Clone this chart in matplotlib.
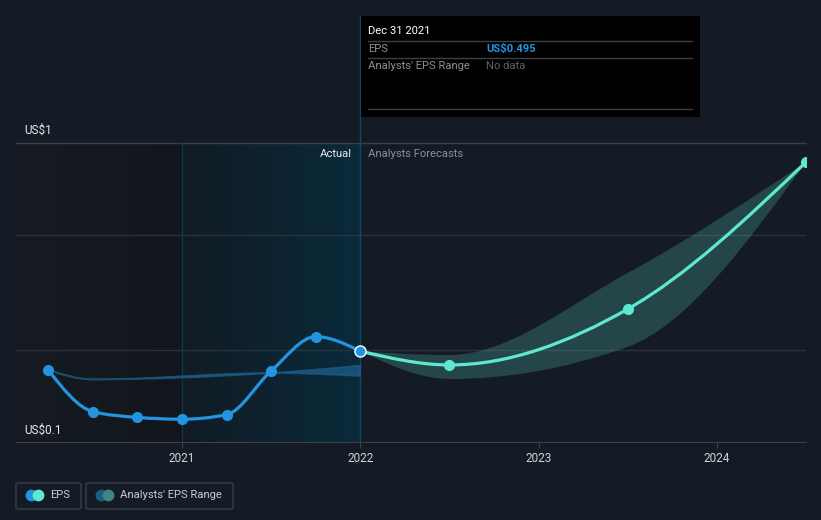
import numpy as np
import matplotlib.pyplot as plt
from matplotlib.path import Path
from matplotlib.patches import PathPatch, Rectangle, FancyBboxPatch
from matplotlib.lines import Line2D
from matplotlib.colors import LinearSegmentedColormap

plt.rcParams['font.family'] = ['Roboto', 'DejaVu Sans']

# EPS history (quarterly, fractional years) and analyst forecasts
eps_years = [2020.25, 2020.5, 2020.75, 2021.0, 2021.25, 2021.5, 2021.75, 2022.0]
eps_values = [0.413, 0.232, 0.207, 0.199, 0.219, 0.409, 0.558, 0.495]

fc_years = [2022.0, 2022.5, 2023.5, 2024.5]
fc_values = [0.495, 0.435, 0.678, 1.317]
fc_low = [0.495, 0.374, 0.514, 1.317]
fc_high = [0.495, 0.478, 0.835, 1.317]

# past analyst range
past_years = [2020.25, 2020.5, 2021.5, 2022.0]
past_low = [0.413, 0.372, 0.400, 0.387]
past_high = [0.413, 0.372, 0.400, 0.432]

year_ticks = [2021, 2022, 2023, 2024]

BG = '#151b24'
BLUE = '#2394df'
TEAL = '#5ee8d1'
GRID = '#2b313a'
FS = 8.1


def monotone_path(xs, ys):
    # cubic bezier segments with monotone-x tangents
    x = np.asarray(xs, float)
    y = np.asarray(ys, float)
    n = len(x)
    h = np.diff(x)
    s = np.diff(y) / h
    m = np.zeros(n)
    for i in range(1, n - 1):
        p = (s[i - 1] * h[i] + s[i] * h[i - 1]) / (h[i - 1] + h[i])
        m[i] = (np.sign(s[i - 1]) + np.sign(s[i])) * min(abs(s[i - 1]), abs(s[i]), 0.5 * abs(p))
    m[0] = (3 * s[0] - m[1]) / 2 if n > 2 else s[0]
    m[-1] = (3 * s[-1] - m[-2]) / 2 if n > 2 else s[-1]
    verts = [(x[0], y[0])]
    codes = [Path.MOVETO]
    for i in range(n - 1):
        d = h[i] / 3
        verts += [(x[i] + d, y[i] + m[i] * d), (x[i + 1] - d, y[i + 1] - m[i + 1] * d), (x[i + 1], y[i + 1])]
        codes += [Path.CURVE4] * 3
    return verts, codes


def band_path(xs, lo, hi):
    v1, c1 = monotone_path(xs, hi)
    v2, c2 = monotone_path(xs[::-1], lo[::-1])
    c2[0] = Path.LINETO
    return Path(v1 + v2 + [v1[0]], c1 + c2 + [Path.CLOSEPOLY])


fig = plt.figure(figsize=(8.21, 5.20), dpi=100, facecolor=BG)
ax = fig.add_axes([16 / 821, 1 - 442 / 520, 790 / 821, 299 / 520])
ax.set_facecolor(BG)

# background shading
grad = np.linspace(0, 1, 256).reshape(1, -1)
left_cmap = LinearSegmentedColormap.from_list('l', ['#161b23', '#12161c'])
ax.imshow(grad, cmap=left_cmap, extent=(2020.069, 2021.0, 0.1, 1.4), aspect='auto', zorder=0)
act_cmap = LinearSegmentedColormap.from_list('a', ['#111b24', '#0a2b3b'])
ax.imshow(grad, cmap=act_cmap, extent=(2021.0, 2022.0, 0.1, 1.4), aspect='auto', zorder=0)
ax.set_xlim(2020.069, 2024.5)
ax.set_ylim(0.1, 1.4)

# grid
for g in [0.5, 1.0]:
    ax.axhline(g, color=GRID, lw=1, zorder=1)
ax.axhline(1.4, color='#3a3f48', lw=1, zorder=1, clip_on=False)
ax.axvline(2021.0, color='#103746', lw=1, zorder=1)
ax.axvline(2022.0, ymax=(442 - 16) / 299, color='#0f4a63', lw=1, zorder=1, clip_on=False)

for sp in ax.spines.values():
    sp.set_visible(False)
ax.spines['bottom'].set_visible(True)
ax.spines['bottom'].set_color('#3b414b')
ax.set_yticks([])
ax.set_xticks(year_ticks)
ax.set_xticklabels([str(y) for y in year_ticks])
ax.tick_params(axis='x', colors='#3b414b', labelcolor='#d0d4da', labelsize=8.5, length=4, pad=3)

# past analyst range
ax.add_patch(PathPatch(band_path(past_years, past_low, past_high), facecolor='#1c5a85', edgecolor='#1c5a85',
                       lw=1.2, alpha=0.8, zorder=2))

# forecast range
ax.add_patch(PathPatch(band_path(fc_years, fc_low, fc_high), facecolor=TEAL, edgecolor='none', alpha=0.21, zorder=2))

# lines
v, c = monotone_path(eps_years, eps_values)
ax.add_patch(PathPatch(Path(v, c), facecolor='none', edgecolor=BLUE, lw=2.3, zorder=3, capstyle='round'))
v, c = monotone_path(fc_years, fc_values)
ax.add_patch(PathPatch(Path(v, c), facecolor='none', edgecolor=TEAL, lw=2.3, zorder=3, capstyle='round'))

ax.plot(eps_years[:-1], eps_values[:-1], 'o', color=BLUE, ms=7, zorder=4)
ax.plot(fc_years[1:], fc_values[1:], 'o', color=TEAL, ms=7, zorder=4)
ax.plot([eps_years[-1]], [eps_values[-1]], 'o', color=BLUE, ms=8, mec='white', mew=1, zorder=5)


def fx(px):
    return px / 821


def fy(py):
    return 1 - py / 520


# axis labels
fig.text(fx(24), fy(130), 'US$1', color='#e6e8eb', fontsize=8.5, va='center')
fig.text(fx(24), fy(430), 'US$0.1', color='#e6e8eb', fontsize=8.5, va='center')
fig.text(fx(352), fy(154), 'Actual', color='#e6e8eb', fontsize=FS, va='center', ha='right')
fig.text(fx(368), fy(154), 'Analysts Forecasts', color='#8a8f98', fontsize=FS, va='center')

# tooltip
fig.patches.append(Rectangle((fx(361), fy(117)), fx(700) - fx(361), fy(16) - fy(117),
                             transform=fig.transFigure, facecolor='black', edgecolor='none', zorder=10))
for py in [41, 58, 109]:
    fig.add_artist(Line2D([fx(368), fx(692)], [fy(py), fy(py)], color='#3d3f44', lw=1, zorder=11))
fig.text(fx(368), fy(31), 'Dec 31 2021', color='white', fontsize=FS, va='center', zorder=12)
fig.text(fx(368), fy(49), 'EPS', color='#8d9096', fontsize=FS, va='center', zorder=12)
fig.text(fx(486), fy(49), 'US$0.495', color=BLUE, fontsize=FS, va='center', fontweight='bold', zorder=12)
fig.text(fx(368), fy(66), "Analysts' EPS Range", color='#8d9096', fontsize=FS, va='center', zorder=12)
fig.text(fx(486), fy(66), 'No data', color='#5f6268', fontsize=FS, va='center', zorder=12)

# legend
for x0, x1 in [(16, 81), (86, 233)]:
    fig.patches.append(FancyBboxPatch((fx(x0), fy(509)), fx(x1) - fx(x0), fy(483) - fy(509),
                                      boxstyle='round,pad=0,rounding_size=0.003', transform=fig.transFigure,
                                      facecolor='none', edgecolor='#3a3f48', lw=1))
for px, col in [(31, BLUE), (38, TEAL), (101, '#1f5a85'), (108, '#3d8580')]:
    fig.add_artist(Line2D([fx(px)], [fy(495)], marker='o', ms=8.5, color=col, mew=0))
fig.text(fx(50), fy(495), 'EPS', color='#c8ccd2', fontsize=FS, va='center')
fig.text(fx(120), fy(495), "Analysts' EPS Range", color='#c8ccd2', fontsize=FS, va='center')

fig.savefig('out.png', dpi=100, facecolor=BG)
